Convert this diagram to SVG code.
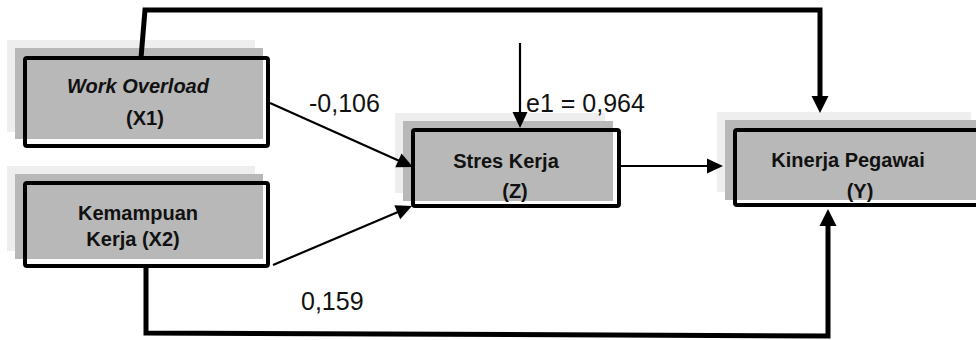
<svg xmlns="http://www.w3.org/2000/svg" width="976" height="340" viewBox="0 0 976 340">
<defs>
<style>
.sh1{fill:#eeeeee}
.sh2{fill:#b8b8b8}
.bx{fill:none;stroke:#000;stroke-width:4}
.bxf{fill:#fff}
.t{font-family:"Liberation Sans",Arial,sans-serif;font-weight:bold;font-size:20px;fill:#111;text-anchor:middle}
.it{font-style:italic}
.lbl{font-family:"Liberation Sans",Arial,sans-serif;font-size:25px;fill:#111}
.thick{fill:none;stroke:#000;stroke-width:5}
.thin{fill:none;stroke:#000;stroke-width:2.2}
.ah{fill:#000;stroke:none}
</style>
</defs>
<rect width="976" height="340" fill="#fff"/>

<g id="node-x1">
<rect class="bxf" x="25" y="58" width="243" height="88"/>
<rect class="sh1" x="7" y="40" width="248" height="92"/>
<rect class="sh2" x="15" y="48" width="248" height="91"/>
<rect class="bx" x="25" y="58" width="243" height="88" rx="2"/>
<text class="t it" x="138" y="93">Work Overload</text>
<text class="t" x="145" y="125">(X1)</text>
</g>

<g id="node-x2">
<rect class="bxf" x="25" y="183" width="243" height="83"/>
<rect class="sh1" x="7" y="166" width="248" height="85"/>
<rect class="sh2" x="15" y="174" width="248" height="85"/>
<rect class="bx" x="25" y="183" width="243" height="83" rx="2"/>
<text class="t" x="138" y="220">Kemampuan</text>
<text class="t" x="133" y="246">Kerja (X2)</text>
</g>

<g id="node-z">
<rect class="bxf" x="413" y="130" width="206" height="76"/>
<rect class="sh1" x="395" y="113" width="210" height="80"/>
<rect class="sh2" x="403" y="121" width="210" height="80"/>
<rect class="bx" x="413" y="130" width="206" height="76" rx="2"/>
<text class="t" x="506" y="168">Stres Kerja</text>
<text class="t" x="515" y="198">(Z)</text>
</g>

<g id="node-y">
<rect class="bxf" x="735" y="130" width="260" height="75"/>
<rect class="sh1" x="717" y="112" width="254" height="80"/>
<rect class="sh2" x="725" y="120" width="260" height="80"/>
<rect class="bx" x="735" y="130" width="260" height="75" rx="2"/>
<text class="t" x="848" y="167">Kinerja Pegawai</text>
<text class="t" x="860" y="198">(Y)</text>
</g>

<g id="connectors">
<path class="thick" d="M141,58 L145,10 L820,10 L820,97"/>
<polygon class="ah" points="811.5,96 828.5,96 820,113"/>
<path class="thick" d="M146,266 L146,333 L828,336 L828,225"/>
<polygon class="ah" points="819.5,226 836.5,226 828,209"/>
<path class="thin" d="M270,103 L399,160.7"/>
<polygon class="ah" points="395.3,167.3 401.5,153.6 413,167"/>
<path class="thin" d="M273,265 L398,212"/>
<polygon class="ah" points="400.2,219.15 394.34,205.35 412,206"/>
<path class="thin" d="M619,166 L708,166"/>
<polygon class="ah" points="707,158.5 707,173.5 723,166"/>
<path class="thin" d="M520,43 L520,113"/>
<polygon class="ah" points="512.5,112 527.5,112 520,128"/>
</g>

<g id="labels">
<text class="lbl" x="309" y="112">-0,106</text>
<text class="lbl" x="526" y="112">e1 = 0,964</text>
<text class="lbl" x="301" y="310">0,159</text>
</g>
</svg>
